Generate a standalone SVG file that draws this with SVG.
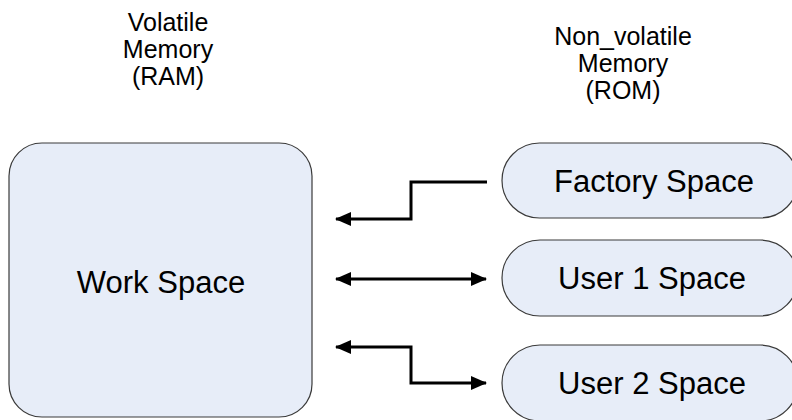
<svg xmlns="http://www.w3.org/2000/svg" width="792" height="420" viewBox="0 0 792 420">
<style>
.node{fill:#E7EDF8;stroke:#3a3a3a;stroke-width:1.2}
.lbl{font-family:"Liberation Sans",Arial,sans-serif;fill:#000;text-anchor:middle}
.big{font-size:31px}
.hdr{font-size:25px}
.conn{fill:none;stroke:#000;stroke-width:3}
</style>
<defs>
<marker id="ah" markerUnits="userSpaceOnUse" markerWidth="16" markerHeight="14" viewBox="0 0 16 14" refX="15" refY="7" orient="auto-start-reverse">
<path d="M0,0 L16,7 L0,14 Z" fill="#000"/>
</marker>
</defs>
<g id="hdr-ram">
<text class="lbl hdr" x="168" y="31">Volatile</text>
<text class="lbl hdr" x="168" y="58">Memory</text>
<text class="lbl hdr" x="168" y="85">(RAM)</text>
</g>
<g id="hdr-rom">
<text class="lbl hdr" x="623" y="45">Non_volatile</text>
<text class="lbl hdr" x="623" y="72">Memory</text>
<text class="lbl hdr" x="623" y="99">(ROM)</text>
</g>
<g id="work">
<rect class="node" x="9" y="143" width="303" height="274" rx="33" ry="33"/>
<text class="lbl big" x="161" y="293">Work Space</text>
</g>
<g id="factory">
<rect class="node" x="502" y="143" width="296" height="75" rx="37.5" ry="37.5"/>
<text class="lbl big" x="654" y="192">Factory Space</text>
</g>
<g id="user1">
<rect class="node" x="502" y="240" width="296" height="76" rx="38" ry="38"/>
<text class="lbl big" x="652" y="289">User 1 Space</text>
</g>
<g id="user2">
<rect class="node" x="502" y="345" width="296" height="76" rx="38" ry="38"/>
<text class="lbl big" x="652" y="394">User 2 Space</text>
</g>
<g id="connectors">
<path class="conn" d="M487,182 H411 V219 H336" marker-end="url(#ah)"/>
<path class="conn" d="M336,279 H486" marker-start="url(#ah)" marker-end="url(#ah)"/>
<path class="conn" d="M336,347 H411 V383 H486" marker-start="url(#ah)" marker-end="url(#ah)"/>
</g>
</svg>
